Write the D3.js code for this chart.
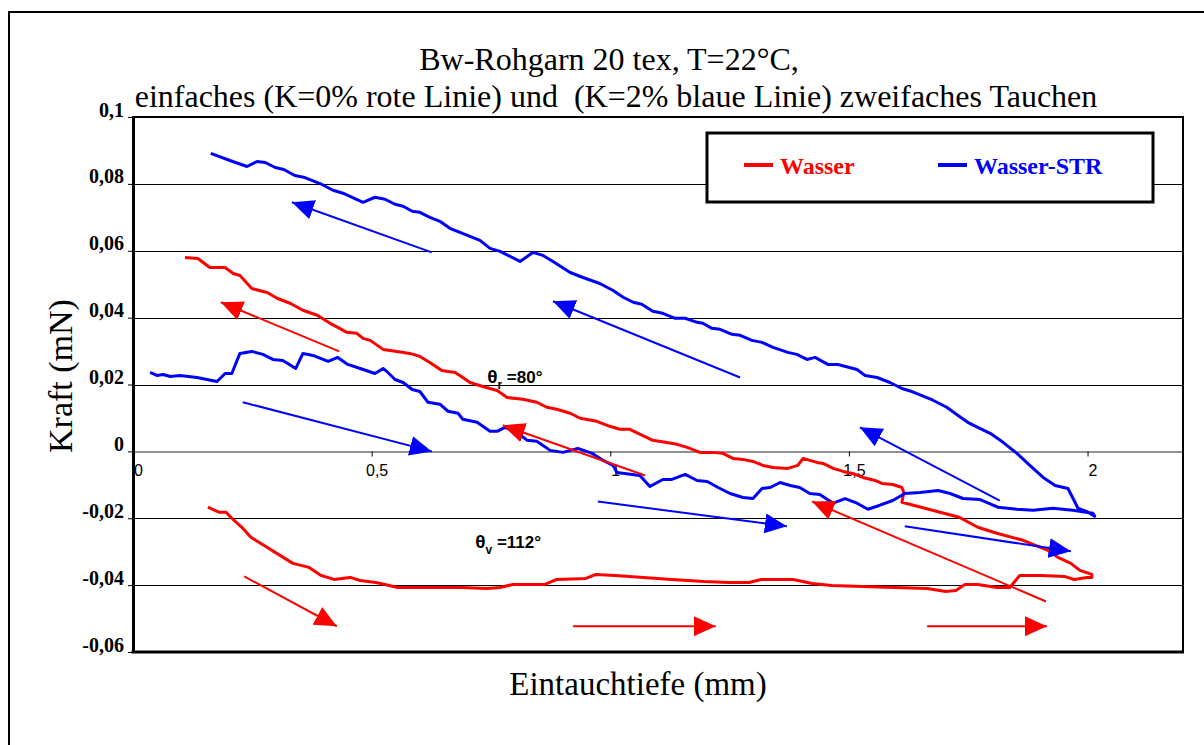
<!DOCTYPE html>
<html>
<head>
<meta charset="utf-8">
<script src="https://cdn.jsdelivr.net/npm/d3@7"></script>
<style>
  body { margin: 0; background: #fff; }
  svg { display: block; }
  .serif { font-family: "Liberation Serif", "Times New Roman", serif; }
  .sans { font-family: "Liberation Sans", Arial, sans-serif; }
</style>
</head>
<body>
<svg id="chart" width="1204" height="745"></svg>
<script>
// Tick values of both axes
const xTicks = [0, 0.5, 1, 1.5, 2];
const yTicks = [-0.06, -0.04, -0.02, 0, 0.02, 0.04, 0.06, 0.08, 0.1];

// Series names
const seriesNames = ["Wasser", "Wasser-STR"];

// Wasser (K=0%): immersion branch, depth in mm / force in mN
const wasserAdvance = [
  [0.157,-0.0167],[0.180,-0.0182],[0.195,-0.0182],[0.207,-0.0200],[0.228,-0.0227],
  [0.247,-0.0257],[0.274,-0.0281],[0.308,-0.0311],[0.335,-0.0335],[0.369,-0.0347],
  [0.394,-0.0371],[0.421,-0.0383],[0.455,-0.0377],[0.476,-0.0386],[0.509,-0.0392],
  [0.555,-0.0407],[0.622,-0.0407],[0.689,-0.0407],[0.742,-0.0410],[0.769,-0.0407],
  [0.796,-0.0398],[0.863,-0.0398],[0.888,-0.0383],[0.949,-0.0380],[0.970,-0.0368],
  [1.010,-0.0371],[1.129,-0.0383],[1.196,-0.0389],[1.249,-0.0392],[1.291,-0.0392],
  [1.316,-0.0383],[1.383,-0.0383],[1.423,-0.0395],[1.464,-0.0401],[1.529,-0.0404],
  [1.596,-0.0407],[1.664,-0.0410],[1.703,-0.0419],[1.724,-0.0416],[1.743,-0.0398],
  [1.770,-0.0398],[1.810,-0.0407],[1.837,-0.0407],[1.858,-0.0371],[1.904,-0.0371],
  [1.951,-0.0374],[1.972,-0.0383],[1.999,-0.0377],[2.009,-0.0377]
];

// Wasser (K=0%): withdrawal branch
const wasserRecede = [
  [2.009,-0.0368],[1.984,-0.0356],[1.965,-0.0335],[1.938,-0.0317],[1.917,-0.0296],
  [1.865,-0.0266],[1.810,-0.0245],[1.770,-0.0227],[1.731,-0.0197],[1.691,-0.0182],
  [1.651,-0.0167],[1.611,-0.0152],[1.615,-0.0123],[1.611,-0.0108],[1.592,-0.0099],
  [1.569,-0.0096],[1.555,-0.0087],[1.529,-0.0078],[1.508,-0.0066],[1.488,-0.0060],
  [1.467,-0.0051],[1.446,-0.0036],[1.433,-0.0033],[1.404,-0.0021],[1.393,-0.0042],
  [1.372,-0.0051],[1.341,-0.0048],[1.320,-0.0042],[1.299,-0.0030],[1.278,-0.0024],
  [1.257,-0.0021],[1.236,-0.0006],[1.215,-0.0003],[1.188,-0.0003],[1.161,0.0012],
  [1.140,0.0021],[1.115,0.0027],[1.089,0.0033],[1.041,0.0066],[1.020,0.0066],
  [0.999,0.0075],[0.972,0.0090],[0.937,0.0099],[0.916,0.0114],[0.888,0.0126],
  [0.867,0.0132],[0.846,0.0147],[0.817,0.0156],[0.784,0.0161],[0.763,0.0182],
  [0.733,0.0194],[0.706,0.0206],[0.691,0.0221],[0.675,0.0236],[0.647,0.0242],
  [0.622,0.0266],[0.601,0.0284],[0.580,0.0293],[0.553,0.0299],[0.524,0.0305],
  [0.497,0.0332],[0.482,0.0338],[0.469,0.0353],[0.448,0.0356],[0.429,0.0371],
  [0.413,0.0383],[0.386,0.0407],[0.356,0.0422],[0.329,0.0443],[0.302,0.0458],
  [0.281,0.0475],[0.249,0.0487],[0.224,0.0526],[0.210,0.0532],[0.193,0.0550],
  [0.161,0.0550],[0.136,0.0577],[0.109,0.0580]
];

// Wasser-STR (K=2%): immersion branch
const strAdvance = [
  [0.036,0.0236],[0.050,0.0227],[0.063,0.0230],[0.078,0.0224],[0.098,0.0227],
  [0.134,0.0221],[0.176,0.0209],[0.193,0.0233],[0.207,0.0233],[0.224,0.0293],
  [0.249,0.0299],[0.272,0.0290],[0.293,0.0275],[0.314,0.0272],[0.341,0.0248],
  [0.356,0.0293],[0.377,0.0287],[0.409,0.0269],[0.429,0.0281],[0.450,0.0260],
  [0.476,0.0248],[0.507,0.0233],[0.524,0.0248],[0.534,0.0236],[0.549,0.0215],
  [0.566,0.0206],[0.585,0.0185],[0.601,0.0179],[0.618,0.0147],[0.643,0.0141],
  [0.660,0.0120],[0.681,0.0114],[0.691,0.0096],[0.721,0.0087],[0.748,0.0060],
  [0.763,0.0060],[0.779,0.0072],[0.805,0.0057],[0.826,0.0033],[0.846,0.0030],
  [0.874,0.0003],[0.901,-0.0003],[0.932,0.0009],[0.962,-0.0006],[0.985,-0.0027],
  [1.006,-0.0042],[1.014,-0.0063],[1.062,-0.0072],[1.083,-0.0105],[1.110,-0.0084],
  [1.129,-0.0084],[1.157,-0.0069],[1.182,-0.0087],[1.203,-0.0090],[1.226,-0.0108],
  [1.251,-0.0126],[1.278,-0.0138],[1.299,-0.0141],[1.318,-0.0111],[1.335,-0.0108],
  [1.356,-0.0093],[1.377,-0.0102],[1.397,-0.0108],[1.418,-0.0126],[1.439,-0.0129],
  [1.467,-0.0155],[1.492,-0.0141],[1.517,-0.0155],[1.540,-0.0173],[1.565,-0.0161],
  [1.592,-0.0147],[1.617,-0.0126],[1.649,-0.0123],[1.687,-0.0117],[1.712,-0.0126],
  [1.739,-0.0141],[1.775,-0.0144],[1.812,-0.0167],[1.852,-0.0173],[1.886,-0.0176],
  [1.927,-0.0170],[1.969,-0.0176],[2.011,-0.0185]
];

// Wasser-STR (K=2%): withdrawal branch
const strRecede = [
  [2.015,-0.0194],[2.001,-0.0182],[1.980,-0.0170],[1.959,-0.0111],[1.932,-0.0102],
  [1.907,-0.0078],[1.879,-0.0042],[1.852,-0.0006],[1.823,0.0027],[1.796,0.0054],
  [1.770,0.0072],[1.749,0.0087],[1.728,0.0108],[1.705,0.0132],[1.676,0.0153],
  [1.653,0.0167],[1.632,0.0179],[1.611,0.0188],[1.586,0.0206],[1.559,0.0221],
  [1.534,0.0227],[1.517,0.0245],[1.477,0.0260],[1.456,0.0260],[1.429,0.0281],
  [1.412,0.0275],[1.391,0.0290],[1.372,0.0296],[1.341,0.0311],[1.318,0.0326],
  [1.297,0.0332],[1.272,0.0347],[1.255,0.0350],[1.230,0.0365],[1.213,0.0368],
  [1.194,0.0383],[1.182,0.0386],[1.157,0.0398],[1.136,0.0398],[1.110,0.0413],
  [1.089,0.0419],[1.066,0.0440],[1.048,0.0446],[1.027,0.0461],[1.006,0.0481],
  [0.978,0.0502],[0.943,0.0520],[0.916,0.0535],[0.880,0.0568],[0.859,0.0586],
  [0.838,0.0595],[0.811,0.0568],[0.769,0.0598],[0.748,0.0607],[0.727,0.0631],
  [0.685,0.0655],[0.664,0.0667],[0.643,0.0688],[0.622,0.0700],[0.601,0.0715],
  [0.585,0.0718],[0.566,0.0733],[0.549,0.0739],[0.528,0.0754],[0.507,0.0760],
  [0.482,0.0745],[0.440,0.0772],[0.419,0.0781],[0.392,0.0801],[0.360,0.0819],
  [0.339,0.0825],[0.316,0.0843],[0.298,0.0849],[0.277,0.0864],[0.260,0.0867],
  [0.239,0.0852],[0.203,0.0870],[0.163,0.0891]
];

// Direction arrows: [fromDepth, fromForce, toDepth, toForce]
const blueArrows = [
  [0.626, 0.0595, 0.333, 0.0745],
  [1.272, 0.0221, 0.880, 0.0449],
  [1.816, -0.0147, 1.523, 0.0072],
  [0.230, 0.0147, 0.626, 0.0000],
  [0.974, -0.0150, 1.370, -0.0224],
  [1.617, -0.0224, 1.965, -0.0299]
];
const redArrows = [
  [0.432, 0.0299, 0.184, 0.0446],
  [1.073, -0.0072, 0.775, 0.0078],
  [1.913, -0.0449, 1.423, -0.0150],
  [0.233, -0.0374, 0.427, -0.0523],
  [0.922, -0.0523, 1.221, -0.0523],
  [1.664, -0.0523, 1.915, -0.0523]
];

// Contact angle notes: [depth, force, symbol subscript, value text]
const angleNotes = [
  [0.742, 0.0203, "r", " =80°"],
  [0.717, -0.0290, "v", " =112°"]
];

const RED = "#ff0000", BLUE = "#0000ff";

const svg = d3.select("#chart");
const plot = { left: 133, right: 1183, top: 117, bottom: 652 };

const x = d3.scaleLinear().domain([0, 2.2]).range([plot.left, plot.right]);
const y = d3.scaleLinear().domain([-0.06, 0.1]).range([plot.bottom, plot.top]);

const de = d3.formatLocale({ decimal: ",", thousands: ".", grouping: [3], currency: ["", " €"], minus: "-" });
const fmt = de.format("~g");

// Outer chart frame (open to the right and bottom)
svg.append("path")
  .attr("d", `M9,${745} L9,12 L1204,12`)
  .attr("fill", "none").attr("stroke", "#000").attr("stroke-width", 2);

// Horizontal gridlines
svg.append("g").selectAll("line")
  .data(yTicks.filter(v => v !== 0 && v > -0.06 && v < 0.1))
  .join("line")
  .attr("x1", plot.left).attr("x2", plot.right)
  .attr("y1", d => Math.round(y(d)) + 0.5).attr("y2", d => Math.round(y(d)) + 0.5)
  .attr("stroke", "#000").attr("stroke-width", 1);

// Plot border
svg.append("rect")
  .attr("x", plot.left).attr("y", plot.top)
  .attr("width", plot.right - plot.left).attr("height", plot.bottom - plot.top)
  .attr("fill", "none").attr("stroke", "#000").attr("stroke-width", 2);

// Y axis
const yAxis = svg.append("g")
  .attr("transform", `translate(${plot.left},0)`)
  .call(d3.axisLeft(y).tickValues(yTicks).tickSize(5).tickSizeOuter(0).tickFormat(fmt));
yAxis.select(".domain").attr("stroke-width", 3);
yAxis.selectAll("text")
  .attr("class", "serif")
  .attr("x", -9).attr("dy", null).attr("y", -1)
  .style("font-size", "20px").style("font-weight", "bold")
  .attr("fill", "#000");

// X axis along zero force
const xAxis = svg.append("g")
  .attr("transform", `translate(0,${Math.round(y(0)) + 0.5})`)
  .call(d3.axisBottom(x).tickValues(xTicks).tickSize(5).tickSizeOuter(0).tickFormat(fmt));
xAxis.select(".domain").attr("stroke", "#222").attr("stroke-width", 1);
xAxis.selectAll("text")
  .attr("class", "sans")
  .attr("y", 24).attr("dy", null).attr("dx", 5)
  .style("font-size", "16px")
  .attr("fill", "#000");

// Thick bottom edge
svg.append("line")
  .attr("x1", plot.left - 1.5).attr("x2", plot.right + 1)
  .attr("y1", plot.bottom).attr("y2", plot.bottom)
  .attr("stroke", "#000").attr("stroke-width", 3);

// Series curves
const line = d3.line().x(d => x(d[0])).y(d => y(d[1]));
const curves = [
  { data: wasserAdvance.concat(wasserRecede), color: RED },
  { data: strAdvance.concat(strRecede), color: BLUE }
];
svg.append("g").selectAll("path")
  .data(curves)
  .join("path")
  .attr("d", d => line(d.data))
  .attr("fill", "none")
  .attr("stroke", d => d.color)
  .attr("stroke-width", 3)
  .attr("stroke-linejoin", "round");

// Arrow heads
const defs = svg.append("defs");
[["headRed", RED], ["headBlue", BLUE]].forEach(([id, c]) => {
  defs.append("marker")
    .attr("id", id)
    .attr("markerUnits", "userSpaceOnUse")
    .attr("viewBox", "0 0 22 20")
    .attr("refX", 22).attr("refY", 10)
    .attr("markerWidth", 22).attr("markerHeight", 20)
    .attr("orient", "auto")
    .append("path").attr("d", "M0,0 L22,10 L0,20 Z").attr("fill", c);
});

function drawArrows(list, color, head) {
  svg.append("g").selectAll("line")
    .data(list)
    .join("line")
    .attr("x1", d => x(d[0])).attr("y1", d => y(d[1]))
    .attr("x2", d => x(d[2])).attr("y2", d => y(d[3]))
    .attr("stroke", color).attr("stroke-width", 2)
    .attr("marker-end", `url(#${head})`);
}
drawArrows(blueArrows, BLUE, "headBlue");
drawArrows(redArrows, RED, "headRed");

// Contact angle notes
angleNotes.forEach(([dx, dy, sub, val]) => {
  const t = svg.append("text")
    .attr("class", "sans")
    .attr("x", x(dx)).attr("y", y(dy))
    .style("font-size", "17px").style("font-weight", "bold")
    .attr("fill", "#000");
  t.append("tspan").style("font-size", "19px").text("θ");
  t.append("tspan").attr("dy", 6).style("font-size", "12px").text(sub);
  t.append("tspan").attr("dy", -6).text(val);
});

// Legend
const lg = svg.append("g");
lg.append("rect")
  .attr("x", 707).attr("y", 133).attr("width", 446).attr("height", 69)
  .attr("fill", "#fff").attr("stroke", "#000").attr("stroke-width", 3);
const legendItems = [
  { name: seriesNames[0], color: RED, x0: 744 },
  { name: seriesNames[1], color: BLUE, x0: 938 }
];
legendItems.forEach(it => {
  lg.append("line")
    .attr("x1", it.x0).attr("x2", it.x0 + 29)
    .attr("y1", 165).attr("y2", 165)
    .attr("stroke", it.color).attr("stroke-width", 4);
  lg.append("text")
    .attr("class", "serif")
    .attr("x", it.x0 + 36).attr("y", 174)
    .style("font-size", "24px").style("font-weight", "bold")
    .attr("fill", it.color)
    .text(it.name);
});

// Titles
svg.append("text").attr("class", "serif")
  .attr("x", 609).attr("y", 70).attr("text-anchor", "middle")
  .style("font-size", "32px").text("Bw-Rohgarn 20 tex, T=22°C,");
svg.append("text").attr("class", "serif")
  .attr("x", 616).attr("y", 107).attr("text-anchor", "middle")
  .style("font-size", "32px").style("white-space", "pre")
  .text("einfaches (K=0% rote Linie) und  (K=2% blaue Linie) zweifaches Tauchen");

svg.append("text").attr("class", "serif")
  .attr("transform", "translate(72,376) rotate(-90)")
  .attr("text-anchor", "middle")
  .style("font-size", "34px").text("Kraft (mN)");

svg.append("text").attr("class", "serif")
  .attr("x", 638).attr("y", 695).attr("text-anchor", "middle")
  .style("font-size", "33px").text("Eintauchtiefe (mm)");
</script>
</body>
</html>
